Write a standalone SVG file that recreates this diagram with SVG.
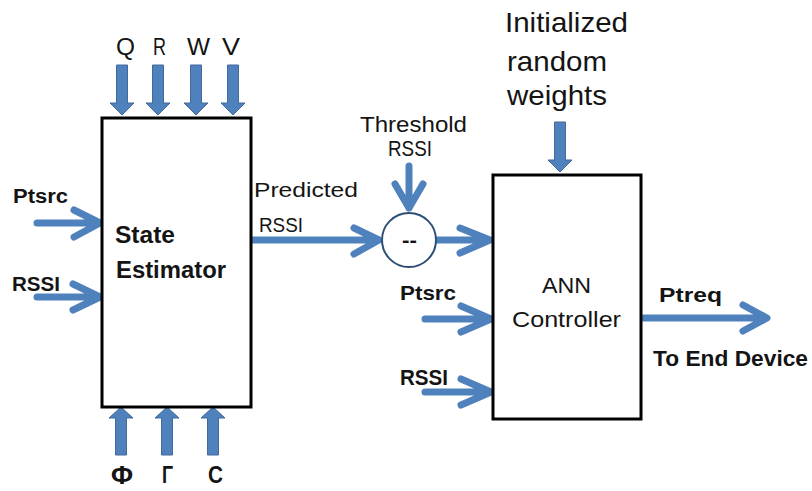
<svg xmlns="http://www.w3.org/2000/svg" width="812" height="491" viewBox="0 0 812 491">
<style>
text{font-family:"Liberation Sans",Arial,sans-serif;fill:#141414}
.b{font-weight:bold}
.box{fill:#fff;stroke:#000;stroke-width:3}
.blk{fill:#4F81BD;stroke:#41699b;stroke-width:1}
.ln{fill:none;stroke:#4F81BD;stroke-width:7;stroke-linecap:round;stroke-linejoin:round}
</style>
<defs>
<path id="down" d="M-5.5,0 H5.5 V38 H12 L0,50 L-12,38 H-5.5 Z"/>
<path id="up" d="M-5.5,48 H5.5 V11 H12 L0,0 L-12,11 H-5.5 Z"/>
</defs>
<rect width="812" height="491" fill="#fff"/>

<g id="connectors">
  <use href="#down" class="blk" x="122" y="65"/>
  <use href="#down" class="blk" x="158" y="65"/>
  <use href="#down" class="blk" x="196" y="65"/>
  <use href="#down" class="blk" x="233" y="65"/>
  <use href="#down" class="blk" x="560" y="122"/>
  <use href="#up" class="blk" x="121" y="407"/>
  <use href="#up" class="blk" x="167" y="407"/>
  <use href="#up" class="blk" x="213" y="407"/>
  <path class="ln" d="M37,223 H99 M74,210 L100,223 L74,237"/>
  <path class="ln" d="M37,297 H99 M73,284 L100,297 L73,310"/>
  <path class="ln" d="M252,240 H378 M354,228 L379,240 L354,254"/>
  <path class="ln" d="M409,166 V208 M395,184 L409,208 L423,184"/>
  <path class="ln" d="M437,240 H489 M460,228 L490,240 L460,253"/>
  <path class="ln" d="M425,319 H489 M461,306 L491,319 L461,332"/>
  <path class="ln" d="M425,392 H489 M461,379 L491,392 L461,405"/>
  <path class="ln" d="M643,318 H766 M743,305 L767,318 L743,331"/>
</g>

<g id="state-estimator">
  <rect class="box" x="102" y="118" width="149" height="289"/>
  <text class="b" x="115" y="243" font-size="23" textLength="60" lengthAdjust="spacingAndGlyphs">State</text>
  <text class="b" x="116" y="278" font-size="23" textLength="110" lengthAdjust="spacingAndGlyphs">Estimator</text>
</g>

<g id="ann-controller">
  <rect class="box" x="493" y="175" width="148" height="244"/>
  <text x="542" y="293" font-size="22" textLength="49" lengthAdjust="spacingAndGlyphs">ANN</text>
  <text x="512" y="327" font-size="22" textLength="109" lengthAdjust="spacingAndGlyphs">Controller</text>
</g>

<g id="subtractor">
  <circle cx="409" cy="240" r="27" fill="#fff" stroke="#2E5077" stroke-width="2"/>
  <text class="b" x="402" y="247" font-size="20" textLength="15" lengthAdjust="spacingAndGlyphs">--</text>
</g>

<g id="inputs-top">
  <text x="116" y="55" font-size="24" textLength="19" lengthAdjust="spacingAndGlyphs">Q</text>
  <text x="153" y="55" font-size="24" textLength="13" lengthAdjust="spacingAndGlyphs">R</text>
  <text x="187" y="55" font-size="24" textLength="23" lengthAdjust="spacingAndGlyphs">W</text>
  <text x="222" y="55" font-size="24" textLength="18" lengthAdjust="spacingAndGlyphs">V</text>
</g>

<g id="inputs-bottom">
  <text class="b" x="111" y="484" font-size="25" textLength="22" lengthAdjust="spacingAndGlyphs">Φ</text>
  <text class="b" x="162" y="483" font-size="24" textLength="11" lengthAdjust="spacingAndGlyphs">Γ</text>
  <text class="b" x="208" y="483" font-size="24" textLength="15" lengthAdjust="spacingAndGlyphs">C</text>
</g>

<g id="inputs-left">
  <text class="b" x="13" y="203" font-size="20" textLength="55" lengthAdjust="spacingAndGlyphs">Ptsrc</text>
  <text class="b" x="12" y="291" font-size="21" textLength="48" lengthAdjust="spacingAndGlyphs">RSSI</text>
</g>

<g id="predicted-label">
  <text x="254" y="197" font-size="21" textLength="104" lengthAdjust="spacingAndGlyphs">Predicted</text>
  <text x="259" y="232" font-size="21" textLength="44" lengthAdjust="spacingAndGlyphs">RSSI</text>
</g>

<g id="threshold-label">
  <text x="360" y="132" font-size="22" textLength="107" lengthAdjust="spacingAndGlyphs">Threshold</text>
  <text x="388" y="156" font-size="22" textLength="44" lengthAdjust="spacingAndGlyphs">RSSI</text>
</g>

<g id="weights-label">
  <text x="505" y="32" font-size="28" textLength="123" lengthAdjust="spacingAndGlyphs">Initialized</text>
  <text x="507" y="71" font-size="28" textLength="100" lengthAdjust="spacingAndGlyphs">random</text>
  <text x="507" y="105" font-size="28" textLength="100" lengthAdjust="spacingAndGlyphs">weights</text>
</g>

<g id="ann-inputs">
  <text class="b" x="400" y="300" font-size="21" textLength="56" lengthAdjust="spacingAndGlyphs">Ptsrc</text>
  <text class="b" x="400" y="385" font-size="22" textLength="48" lengthAdjust="spacingAndGlyphs">RSSI</text>
</g>

<g id="output">
  <text class="b" x="659" y="302" font-size="21" textLength="63" lengthAdjust="spacingAndGlyphs">Ptreq</text>
  <text class="b" x="653" y="366" font-size="22" textLength="155" lengthAdjust="spacingAndGlyphs">To End Device</text>
</g>
</svg>
